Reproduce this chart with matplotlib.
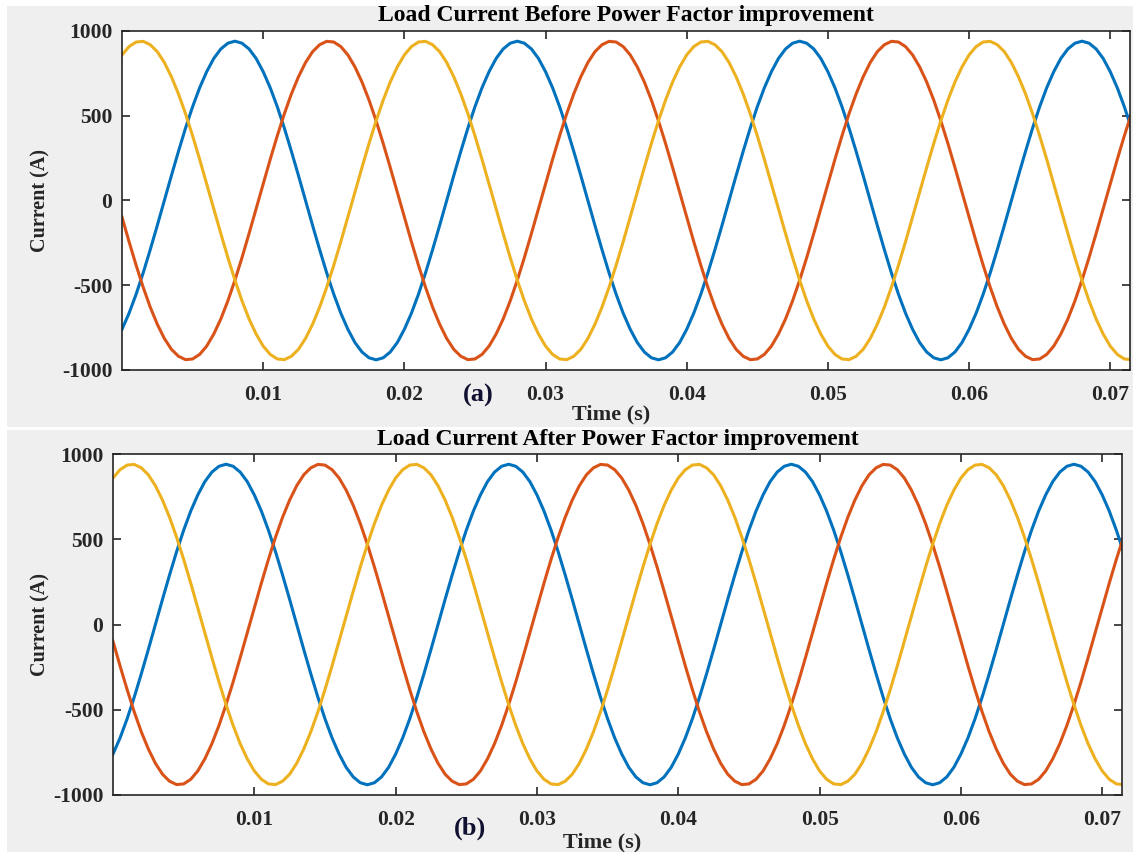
import numpy as np
import matplotlib
matplotlib.use("Agg")
import matplotlib.pyplot as plt
from matplotlib.patches import Rectangle

# three-phase load currents (A), every 0.5 ms from t = 0 to 0.0715 s
# the "after" panel looks the same as the "before" panel, so both use these values
time_half_ms = list(range(144))

phase_a = [-760, -665, -553, -427, -290, -147, 0, 147, 290, 427, 553, 665, 760, 838, 894, 928, 940, 928, 894, 838,
           760, 665, 553, 427, 290, 147, 0, -147, -290, -427, -553, -665, -760, -838, -894, -928, -940, -928, -894, -838,
           -760, -665, -553, -427, -290, -147, 0, 147, 290, 427, 553, 665, 760, 838, 894, 928, 940, 928, 894, 838,
           760, 665, 553, 427, 290, 147, 0, -147, -290, -427, -553, -665, -760, -838, -894, -928, -940, -928, -894, -838,
           -760, -665, -553, -427, -290, -147, 0, 147, 290, 427, 553, 665, 760, 838, 894, 928, 940, 928, 894, 838,
           760, 665, 553, 427, 290, 147, 0, -147, -290, -427, -553, -665, -760, -838, -894, -928, -940, -928, -894, -838,
           -760, -665, -553, -427, -290, -147, 0, 147, 290, 427, 553, 665, 760, 838, 894, 928, 940, 928, 894, 838,
           760, 665, 553, 427]
phase_b = [-98, -243, -382, -512, -629, -730, -814, -878, -919, -939, -935, -908, -859, -788, -699, -592, -470, -337, -195, -49,
           98, 243, 382, 512, 629, 730, 814, 878, 919, 939, 935, 908, 859, 788, 699, 592, 470, 337, 195, 49,
           -98, -243, -382, -512, -629, -730, -814, -878, -919, -939, -935, -908, -859, -788, -699, -592, -470, -337, -195, -49,
           98, 243, 382, 512, 629, 730, 814, 878, 919, 939, 935, 908, 859, 788, 699, 592, 470, 337, 195, 49,
           -98, -243, -382, -512, -629, -730, -814, -878, -919, -939, -935, -908, -859, -788, -699, -592, -470, -337, -195, -49,
           98, 243, 382, 512, 629, 730, 814, 878, 919, 939, 935, 908, 859, 788, 699, 592, 470, 337, 195, 49,
           -98, -243, -382, -512, -629, -730, -814, -878, -919, -939, -935, -908, -859, -788, -699, -592, -470, -337, -195, -49,
           98, 243, 382, 512]
phase_c = [859, 908, 935, 939, 919, 878, 814, 730, 629, 512, 382, 243, 98, -49, -195, -337, -470, -592, -699, -788,
           -859, -908, -935, -939, -919, -878, -814, -730, -629, -512, -382, -243, -98, 49, 195, 337, 470, 592, 699, 788,
           859, 908, 935, 939, 919, 878, 814, 730, 629, 512, 382, 243, 98, -49, -195, -337, -470, -592, -699, -788,
           -859, -908, -935, -939, -919, -878, -814, -730, -629, -512, -382, -243, -98, 49, 195, 337, 470, 592, 699, 788,
           859, 908, 935, 939, 919, 878, 814, 730, 629, 512, 382, 243, 98, -49, -195, -337, -470, -592, -699, -788,
           -859, -908, -935, -939, -919, -878, -814, -730, -629, -512, -382, -243, -98, 49, 195, 337, 470, 592, 699, 788,
           859, 908, 935, 939, 919, 878, 814, 730, 629, 512, 382, 243, 98, -49, -195, -337, -470, -592, -699, -788,
           -859, -908, -935, -939]

titles = ["Load Current Before Power Factor improvement",
          "Load Current After Power Factor improvement"]
panel_tags = ["(a)", "(b)"]
xticks = [0.01, 0.02, 0.03, 0.04, 0.05, 0.06, 0.07]
yticks = [-1000, -500, 0, 500, 1000]

colors = ["#0072BD", "#D95319", "#EDB120"]
plt.rcParams["font.family"] = ["Liberation Serif", "DejaVu Serif"]
plt.rcParams["font.weight"] = "bold"
plt.rcParams["axes.unicode_minus"] = False

W, H = 1133, 852
fig = plt.figure(figsize=(W / 100, H / 100), dpi=100)
fig.patch.set_facecolor("white")

# grey screenshot backgrounds, separated by a thin white line
fig.add_artist(Rectangle((7 / W, 1 - 427 / H), 1, 421 / H, transform=fig.transFigure,
                         facecolor="#efefef", edgecolor="none", zorder=0))
fig.add_artist(Rectangle((7 / W, 0), 1, 1 - 430 / H, transform=fig.transFigure,
                         facecolor="#efefef", edgecolor="none", zorder=0))

# axes boxes in pixels: left, top, right, bottom
boxes = [(122, 31, 1130, 370), (113, 454, 1122, 795)]
title_y = [15, 440]
tag_pos = [(478, 395), (470, 828)]
xlabel_y = [414, 842]

t = np.array(time_half_ms) / 2000.0

for k, (l, tp, r, b) in enumerate(boxes):
    ax = fig.add_axes([l / W, 1 - b / H, (r - l) / W, (b - tp) / H])
    ax.set_facecolor("white")
    for y, c in zip([phase_a, phase_b, phase_c], colors):
        ax.plot(t, y, color=c, linewidth=2.2)
    ax.set_xlim(0, 0.0714)
    ax.set_ylim(-1000, 1000)
    ax.set_xticks(xticks)
    ax.set_xticklabels([f"{v:g}" for v in xticks])
    ax.set_yticks(yticks)
    ax.tick_params(direction="in", length=6, width=1.2, colors="#262626",
                   top=True, right=True, labelsize=15.5)
    ax.tick_params(axis="x", pad=11)
    ax.tick_params(axis="y", pad=7)
    for lab in ax.get_xticklabels() + ax.get_yticklabels():
        lab.set_fontweight("bold")
    for s in ax.spines.values():
        s.set_color("#262626")
        s.set_linewidth(1.2)

    cx = (l + r) / 2 / W
    fig.text(cx, 1 - title_y[k] / H, titles[k], ha="center", va="center",
             fontsize=17, fontweight="bold", color="black")
    fig.text(cx - 15 / W, 1 - xlabel_y[k] / H, "Time (s)", ha="center", va="center",
             fontsize=16, fontweight="bold", color="#262626")
    fig.text(40 / W, 1 - (tp + b) / 2 / H, "Current (A)", ha="center", va="center",
             rotation=90, fontsize=14.5, fontweight="bold", color="#262626")
    fig.text(tag_pos[k][0] / W, 1 - tag_pos[k][1] / H, panel_tags[k], ha="center",
             va="center", fontsize=19, fontweight="bold", color="#101030")

fig.savefig("out.png", dpi=100)
